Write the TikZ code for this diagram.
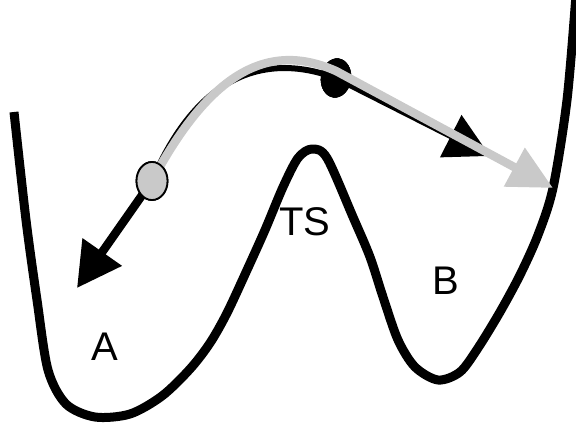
\documentclass[tikz,border=0pt]{standalone}
\usepackage{fontspec}
\setmainfont{Liberation Sans}
\usetikzlibrary{arrows.meta,shapes.geometric}
\definecolor{trackgrey}{gray}{0.79}
\begin{document}
\begin{tikzpicture}[
                x=1pt,y=-1pt,
                wellCurve/.style={draw=black,line width=9pt,line join=round},
                wellTrackBlack/.style={draw=black,line width=6pt},
                wellShaftBlack/.style={draw=black,line width=8.5pt},
                wellTrackGrey/.style={draw=trackgrey,line width=8.5pt},
                wellBallGrey/.style={ellipse,fill=trackgrey,draw=black,line width=1.8pt,
                                     minimum width=31pt,minimum height=38pt,inner sep=0pt},
                wellBallBlack/.style={ellipse,fill=black,draw=black,rotate=-8,
                                      minimum width=30pt,minimum height=39pt,inner sep=0pt},
                every node/.style={font=\fontsize{40}{40}\selectfont}]
                \useasboundingbox (0,0) rectangle (576,425);

                % Double well: basin A, barrier TS, basin B.
                \draw[wellCurve] plot[smooth,tension=0.5] coordinates{
                    (14,112) (26,220) (37,300) (48,370) (66,404) (95,417)
                    (130,414) (162,396) (190,369) (210,343) (227,313) (247,270)
                    (265,230) (283,187) (298,158) (312,149) (327,158) (353,217)
                    (370,257) (383,297) (398,340) (415,367) (438,380) (460,372)
                    (478,348) (500,312) (520,275) (538,235) (553,188) (567,100) (576,-5)};
                \node (lblA) at (105,347) {A};
                \node (lblTS) at (305,222) {TS};
                \node (lblB) at (446,281) {B};

                % Trajectory ends and the two balls.
                \node[wellBallBlack] (blackball) at (336,78) {};
                \node[wellBallGrey] (greyball) at (152,181) {};
                \coordinate (tipA) at (77,288);
                \coordinate (tipB) at (490,156);
                \coordinate (tipG) at (553,188);
                \coordinate (gk) at (336,71);

                % Black trajectory: back over the top and down into A, forward towards B.
                \draw[wellTrackBlack] (blackball.center) .. controls (260,50) and (195,80) .. (greyball.center);
                \draw[wellShaftBlack,-{Triangle[length=44pt,width=46pt]}] (greyball.center) -- (tipA);
                \draw[wellTrackBlack,-{Triangle[length=44pt,width=46pt]}] (blackball.center) -- (tipB);
                \node[wellBallBlack] at (blackball) {};

                % Grey trajectory from the grey ball over the barrier to B.
                \draw[wellTrackGrey,-{Triangle[length=44pt,width=42pt]}] (greyball.center)
                    .. controls (205,82) and (262,38) .. (gk) -- (tipG);
                \node[wellBallGrey] at (greyball) {};

            \end{tikzpicture}
\end{document}
